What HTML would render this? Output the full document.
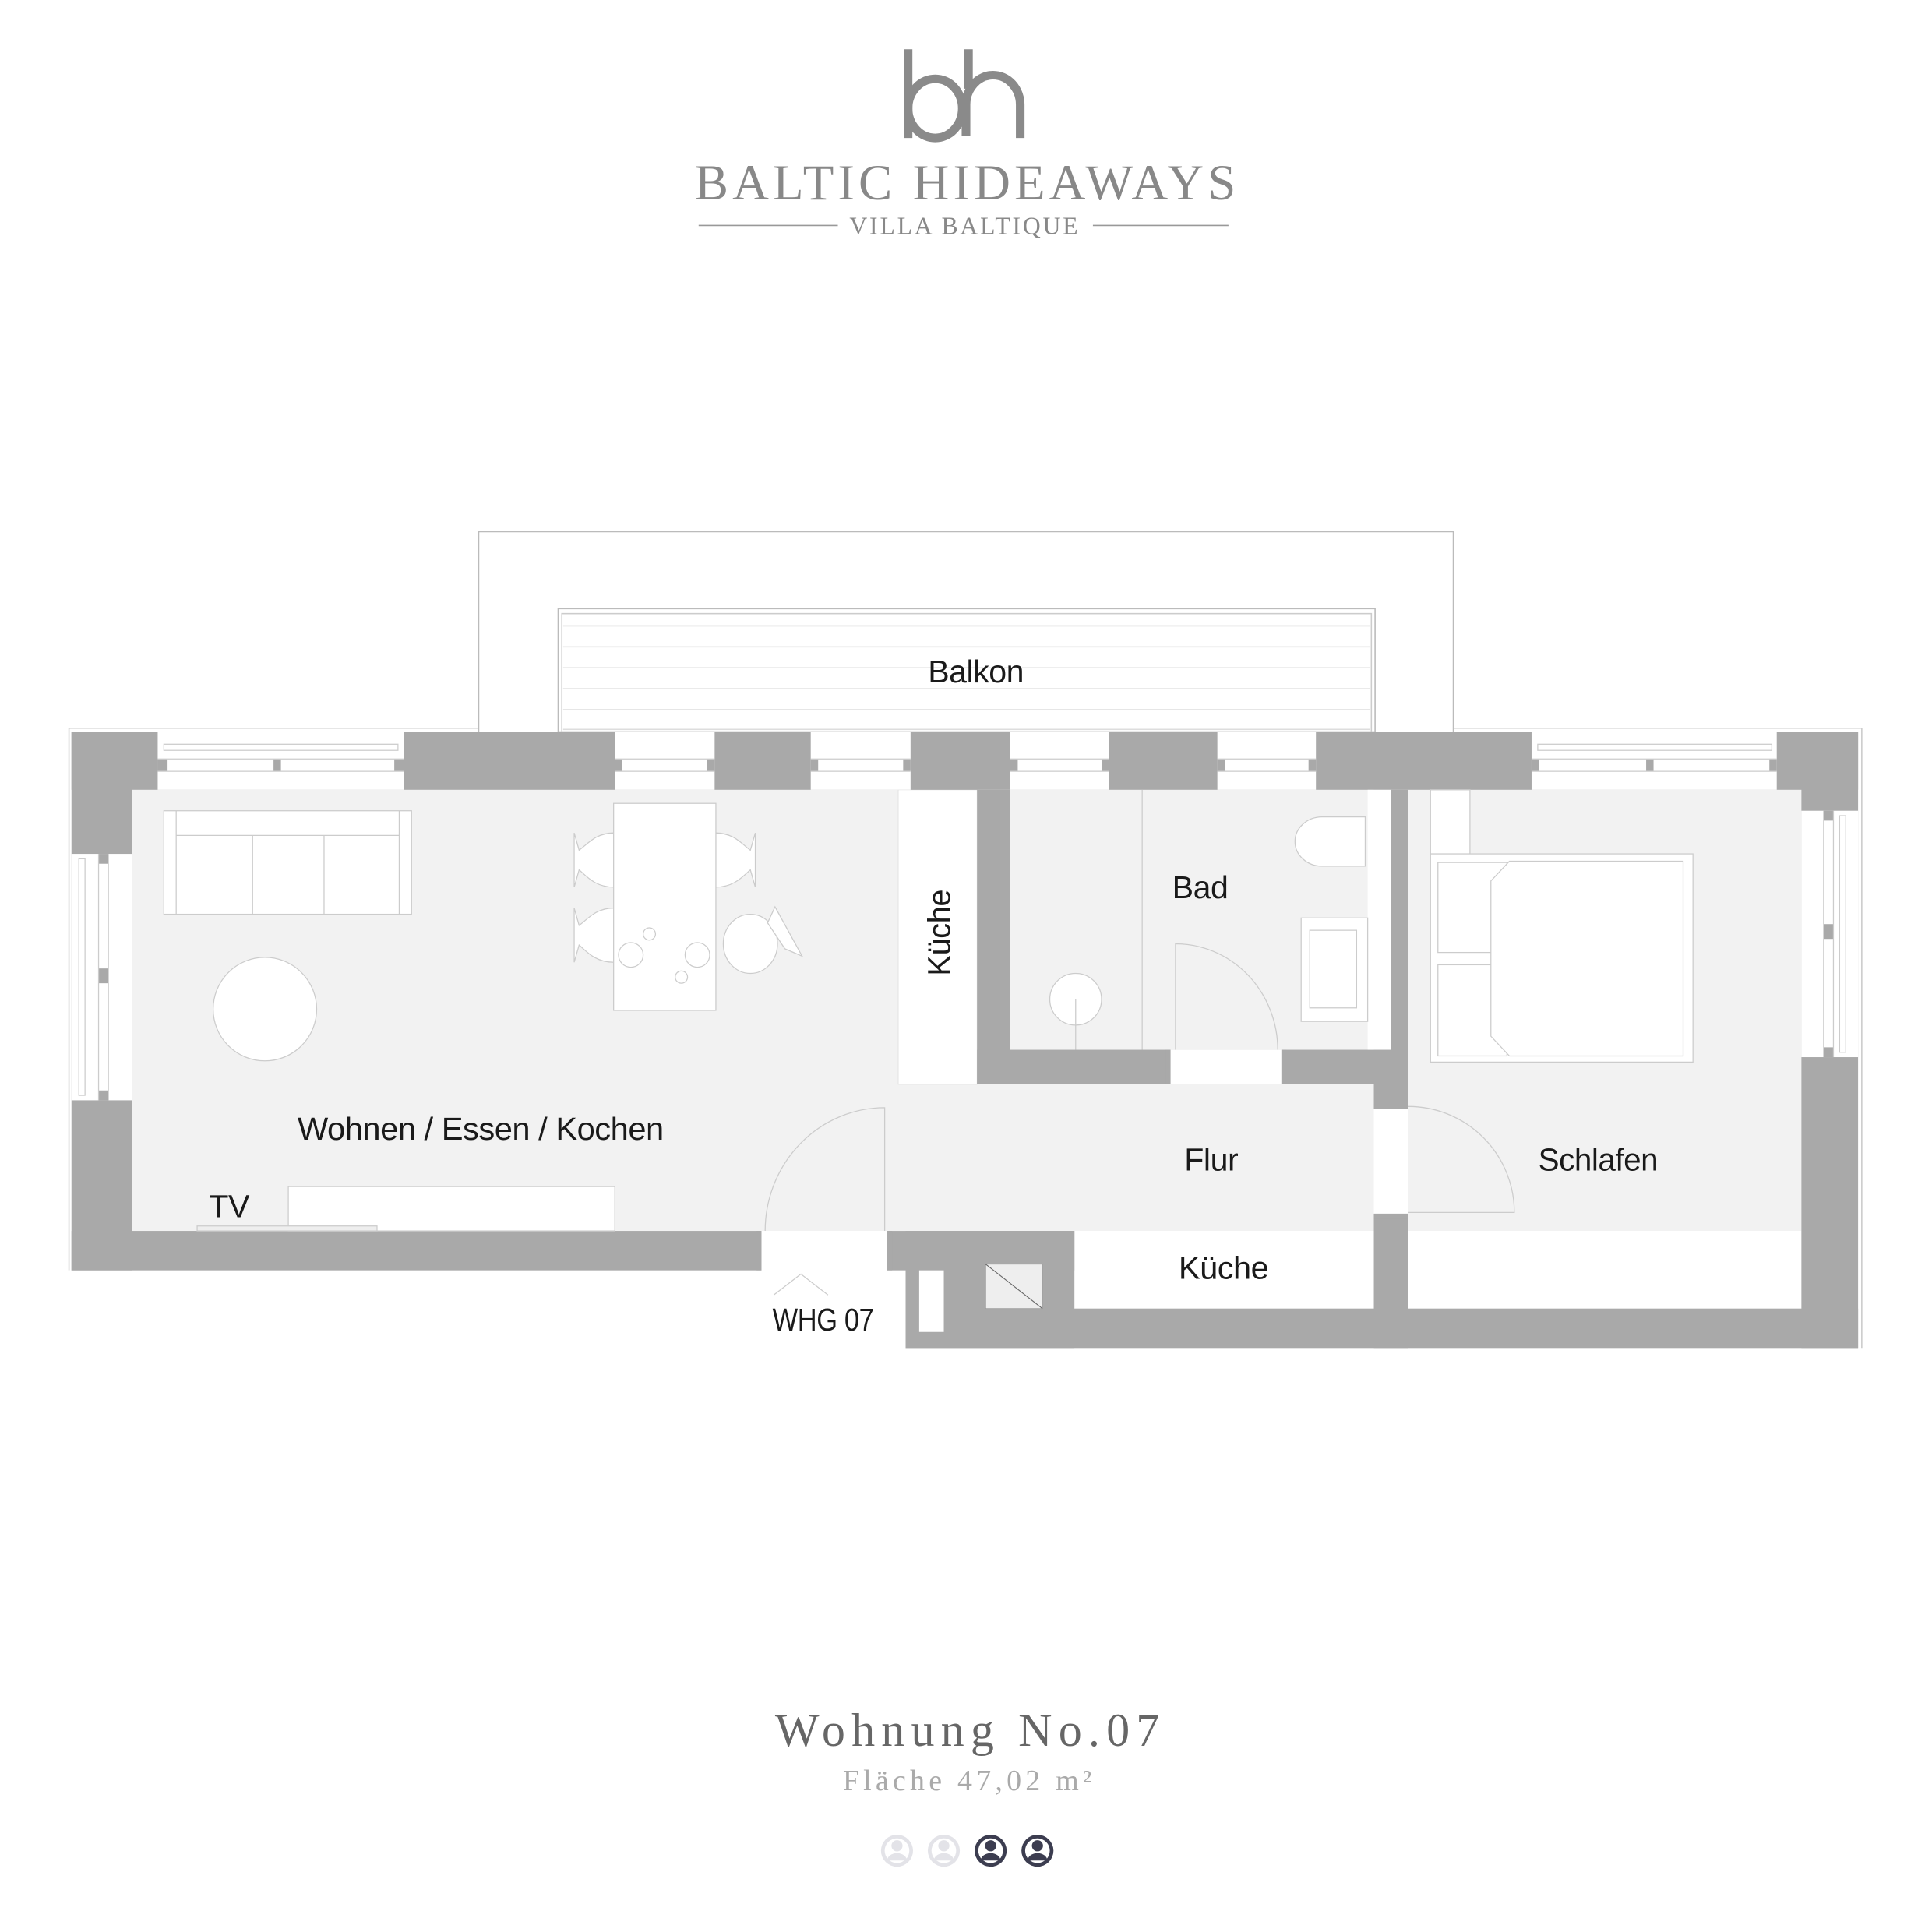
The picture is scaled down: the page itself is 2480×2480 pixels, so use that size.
<!DOCTYPE html>
<html><head><meta charset="utf-8"><style>
html,body{margin:0;padding:0;background:#fff}
svg{display:block}
.l{font-family:"Liberation Sans",sans-serif;fill:#1a1a1a;font-size:26px;letter-spacing:-0.3px}
</style></head><body>
<svg width="2480" height="2480" viewBox="0 0 1568 1568" xmlns="http://www.w3.org/2000/svg">
<rect width="1568" height="1568" fill="#fff"/>
<!-- logo -->
<g fill="none" stroke="#8a8a8a" stroke-width="7">
<line x1="737" y1="40" x2="737" y2="112"/>
<path d="M737 88 a22 24 0 1 0 44 0 a22 24 0 1 0 -44 0"/>
<path d="M784 110 V85 a22 24 0 0 1 44 0 V112"/>
<line x1="786" y1="40" x2="786" y2="72"/>
</g>
<text x="785" y="162" text-anchor="middle" font-family="Liberation Serif,serif" font-size="41" fill="#888" letter-spacing="3.2">BALTIC HIDEAWAYS</text>
<text x="783" y="190" text-anchor="middle" font-family="Liberation Serif,serif" font-size="20" fill="#888" letter-spacing="1.8">VILLA BALTIQUE</text>
<line x1="567" y1="183" x2="680" y2="183" stroke="#999" stroke-width="1"/>
<line x1="887" y1="183" x2="997" y2="183" stroke="#999" stroke-width="1"/>

<!-- balcony -->
<rect x="388.5" y="431.5" width="791" height="163" fill="#fff" stroke="#bbb"/>
<rect x="453" y="494" width="663" height="100" fill="#fff" stroke="#bbb"/>
<rect x="456" y="498" width="657" height="96" fill="none" stroke="#ccc"/>
<g stroke="#ddd" stroke-width="1">
<line x1="457" y1="508" x2="1112" y2="508"/><line x1="457" y1="525" x2="1112" y2="525"/>
<line x1="457" y1="542" x2="1112" y2="542"/><line x1="457" y1="559" x2="1112" y2="559"/>
<line x1="457" y1="576" x2="1112" y2="576"/><line x1="457" y1="592" x2="1112" y2="592"/>
</g>
<text class="l" x="792" y="554" text-anchor="middle">Balkon</text>
<path d="M56 1031 V591 H388 M1180 591 H1511 V1094" fill="none" stroke="#ccc"/>

<!-- floors -->
<rect x="107" y="641" width="1355" height="358" fill="#f2f2f2"/>
<rect x="729" y="641" width="64" height="239" fill="#fff" stroke="#ddd" stroke-width="0.5"/>
<rect x="872" y="999" width="243" height="63" fill="#fff"/>
<rect x="1143" y="999" width="319" height="63" fill="#fff"/>
<rect x="618" y="999" width="102" height="32" fill="#fff"/>

<!-- walls -->
<g fill="#a9a9a9">
<rect x="58" y="594" width="1450" height="47"/>
<rect x="58" y="594" width="49" height="437"/>
<rect x="58" y="999" width="560" height="32"/>
<rect x="720" y="999" width="152" height="32"/>
<rect x="735" y="999" width="137" height="95"/>
<rect x="735" y="1062" width="773" height="32"/>
<rect x="1462" y="594" width="46" height="500"/>
<rect x="1115" y="985" width="28" height="109"/>
<rect x="1115" y="641" width="28" height="259"/>
<rect x="793" y="641" width="27" height="239"/>
<rect x="793" y="852" width="350" height="28"/>
</g>
<g fill="#fff">
<rect x="128" y="594" width="200" height="47"/>
<rect x="499" y="594" width="81" height="47"/>
<rect x="658" y="594" width="81" height="47"/>
<rect x="820" y="594" width="80" height="47"/>
<rect x="988" y="594" width="80" height="47"/>
<rect x="1243" y="594" width="199" height="47"/>
<rect x="58" y="693" width="49" height="200"/>
<rect x="1462" y="658" width="46" height="200"/>
<rect x="950" y="852" width="90" height="28"/>
<rect x="1115" y="900" width="28" height="85"/>
<rect x="1110" y="641" width="19" height="211"/>
<rect x="746" y="1031" width="20" height="50"/>
</g>
<rect x="800" y="1026" width="46" height="36" fill="#eee" stroke="#999" stroke-width="0.5"/>
<line x1="800" y1="1026" x2="846" y2="1062" stroke="#666" stroke-width="0.7"/>
<g fill="#a9a9a9">
<rect x="128" y="616" width="8" height="10"/><rect x="320" y="616" width="8" height="10"/><rect x="222" y="616" width="6" height="10"/>
<rect x="499" y="616" width="6" height="10"/><rect x="574" y="616" width="6" height="10"/>
<rect x="658" y="616" width="6" height="10"/><rect x="733" y="616" width="6" height="10"/>
<rect x="820" y="616" width="6" height="10"/><rect x="894" y="616" width="6" height="10"/>
<rect x="988" y="616" width="6" height="10"/><rect x="1062" y="616" width="6" height="10"/>
<rect x="1243" y="616" width="6" height="10"/><rect x="1436" y="616" width="6" height="10"/><rect x="1336" y="616" width="6" height="10"/>
<rect x="80" y="693" width="8" height="8"/><rect x="80" y="786" width="8" height="12"/><rect x="80" y="885" width="8" height="8"/>
<rect x="1480" y="658" width="8" height="8"/><rect x="1480" y="750" width="8" height="12"/><rect x="1480" y="850" width="8" height="8"/>
<rect x="946" y="852" width="4" height="28"/><rect x="1040" y="852" width="4" height="28"/>
<rect x="1115" y="896" width="28" height="4"/><rect x="1115" y="985" width="28" height="4"/>
<rect x="614" y="999" width="4" height="32"/><rect x="720" y="999" width="4" height="32"/>
</g>
<g fill="none" stroke="#ccc" stroke-width="0.8">
<rect x="133" y="604" width="190" height="5"/><rect x="1248" y="604" width="190" height="5"/>
<rect x="64" y="697" width="5" height="192"/><rect x="1493" y="662" width="5" height="192"/>
<line x1="128" y1="616" x2="328" y2="616"/><line x1="128" y1="626" x2="328" y2="626"/>
<line x1="499" y1="616" x2="580" y2="616"/><line x1="499" y1="626" x2="580" y2="626"/>
<line x1="658" y1="616" x2="739" y2="616"/><line x1="658" y1="626" x2="739" y2="626"/>
<line x1="820" y1="616" x2="900" y2="616"/><line x1="820" y1="626" x2="900" y2="626"/>
<line x1="988" y1="616" x2="1068" y2="616"/><line x1="988" y1="626" x2="1068" y2="626"/>
<line x1="1243" y1="616" x2="1442" y2="616"/><line x1="1243" y1="626" x2="1442" y2="626"/>
<line x1="80" y1="693" x2="80" y2="893"/><line x1="88" y1="693" x2="88" y2="893"/>
<line x1="1480" y1="658" x2="1480" y2="858"/><line x1="1488" y1="658" x2="1488" y2="858"/>
</g>

<g fill="#fff" stroke="#ccc" stroke-width="0.8">
<rect x="133" y="658" width="201" height="84"/>
<line x1="143" y1="658" x2="143" y2="742"/><line x1="324" y1="658" x2="324" y2="742"/>
<line x1="143" y1="678" x2="324" y2="678"/>
<line x1="205" y1="678" x2="205" y2="742"/><line x1="263" y1="678" x2="263" y2="742"/>
<ellipse cx="215" cy="819" rx="42" ry="42"/>
<path d="M498 676 c-15 0 -22 10 -28 14 l-4-14 v44 l4-14 c6 5 13 14 28 14z"/>
<path d="M498 737 c-15 0 -22 10 -28 14 l-4-14 v44 l4-14 c6 5 13 14 28 14z"/>
<path d="M581 676 c15 0 22 10 28 14 l4-14 v44 l-4-14 c-6 5 -13 14 -28 14z"/>
<ellipse cx="609" cy="766" rx="22" ry="24"/>
<path d="M623 749 l6-13 l22 40 l-14-6z"/>
<rect x="498" y="652" width="83" height="168"/>
<circle cx="512" cy="775" r="10"/><circle cx="566" cy="775" r="10"/>
<circle cx="527" cy="758" r="5"/><circle cx="553" cy="793" r="5"/>
<rect x="234" y="963" width="265" height="36"/>
<rect x="160" y="995" width="146" height="4" fill="#eee"/>
<path d="M1108 663 h-35 a22 20 0 0 0 0 40 h35z"/>
<rect x="1056" y="745" width="54" height="84"/>
<rect x="1063" y="755" width="38" height="63"/>
<line x1="927" y1="641" x2="927" y2="852"/>
<ellipse cx="873" cy="811" rx="21" ry="21"/>
<line x1="873" y1="811" x2="873" y2="852"/>
<rect x="1161" y="641" width="32" height="52"/>
<rect x="1161" y="693" width="213" height="169"/>
<rect x="1167" y="700" width="56" height="73"/><rect x="1167" y="783" width="56" height="74"/>
<path d="M1210 715 l15-16 h141 v158 h-141 l-15-16z"/>
</g>
<g fill="none" stroke="#ccc" stroke-width="0.8">
<path d="M718 999 V899 A97 100 0 0 0 621 999"/>
<path d="M954 852 V766 A83 86 0 0 1 1037 852"/>
<path d="M1143 898 A86 86 0 0 1 1229 984 H1143"/>
<path d="M628 1051 L650 1034 L672 1051"/>
</g>

<text class="l" x="390" y="925" text-anchor="middle" textLength="297" lengthAdjust="spacingAndGlyphs">Wohnen / Essen / Kochen</text>
<text class="l" x="186" y="988" text-anchor="middle">TV</text>
<text class="l" x="771" y="757" text-anchor="middle" transform="rotate(-90 771 757)" textLength="70" lengthAdjust="spacingAndGlyphs">Küche</text>
<text class="l" x="974" y="729" text-anchor="middle">Bad</text>
<text class="l" x="983" y="950" text-anchor="middle">Flur</text>
<text class="l" x="1297" y="950" text-anchor="middle" textLength="97" lengthAdjust="spacingAndGlyphs">Schlafen</text>
<text class="l" x="993" y="1038" text-anchor="middle" textLength="73" lengthAdjust="spacingAndGlyphs">Küche</text>
<text class="l" x="668" y="1080" text-anchor="middle" font-size="21" textLength="82" lengthAdjust="spacingAndGlyphs">WHG 07</text>

<text x="785" y="1417" text-anchor="middle" font-family="Liberation Serif,serif" font-size="38" fill="#666" textLength="312" lengthAdjust="spacing">Wohnung No.07</text>
<text x="785" y="1453" text-anchor="middle" font-family="Liberation Serif,serif" font-size="24" fill="#aaa" textLength="202" lengthAdjust="spacing">Fläche 47,02 m²</text>
<g>
<g fill="#e3e3e8"><circle cx="728" cy="1502" r="13"/><circle cx="766" cy="1502" r="13"/></g>
<g fill="#3c3d50"><circle cx="804" cy="1502" r="13"/><circle cx="842" cy="1502" r="13"/></g>
<g fill="#fff"><circle cx="728" cy="1502" r="10"/><circle cx="766" cy="1502" r="10"/><circle cx="804" cy="1502" r="10"/><circle cx="842" cy="1502" r="10"/></g>
<g fill="#e3e3e8"><circle cx="728" cy="1498" r="4.5"/><circle cx="766" cy="1498" r="4.5"/><path d="M720 1510 a8 6 0 0 1 16 0z"/><path d="M758 1510 a8 6 0 0 1 16 0z"/></g>
<g fill="#3c3d50"><circle cx="804" cy="1498" r="4.5"/><circle cx="842" cy="1498" r="4.5"/><path d="M796 1510 a8 6 0 0 1 16 0z"/><path d="M834 1510 a8 6 0 0 1 16 0z"/></g>
</g>
</svg>
</body></html>
